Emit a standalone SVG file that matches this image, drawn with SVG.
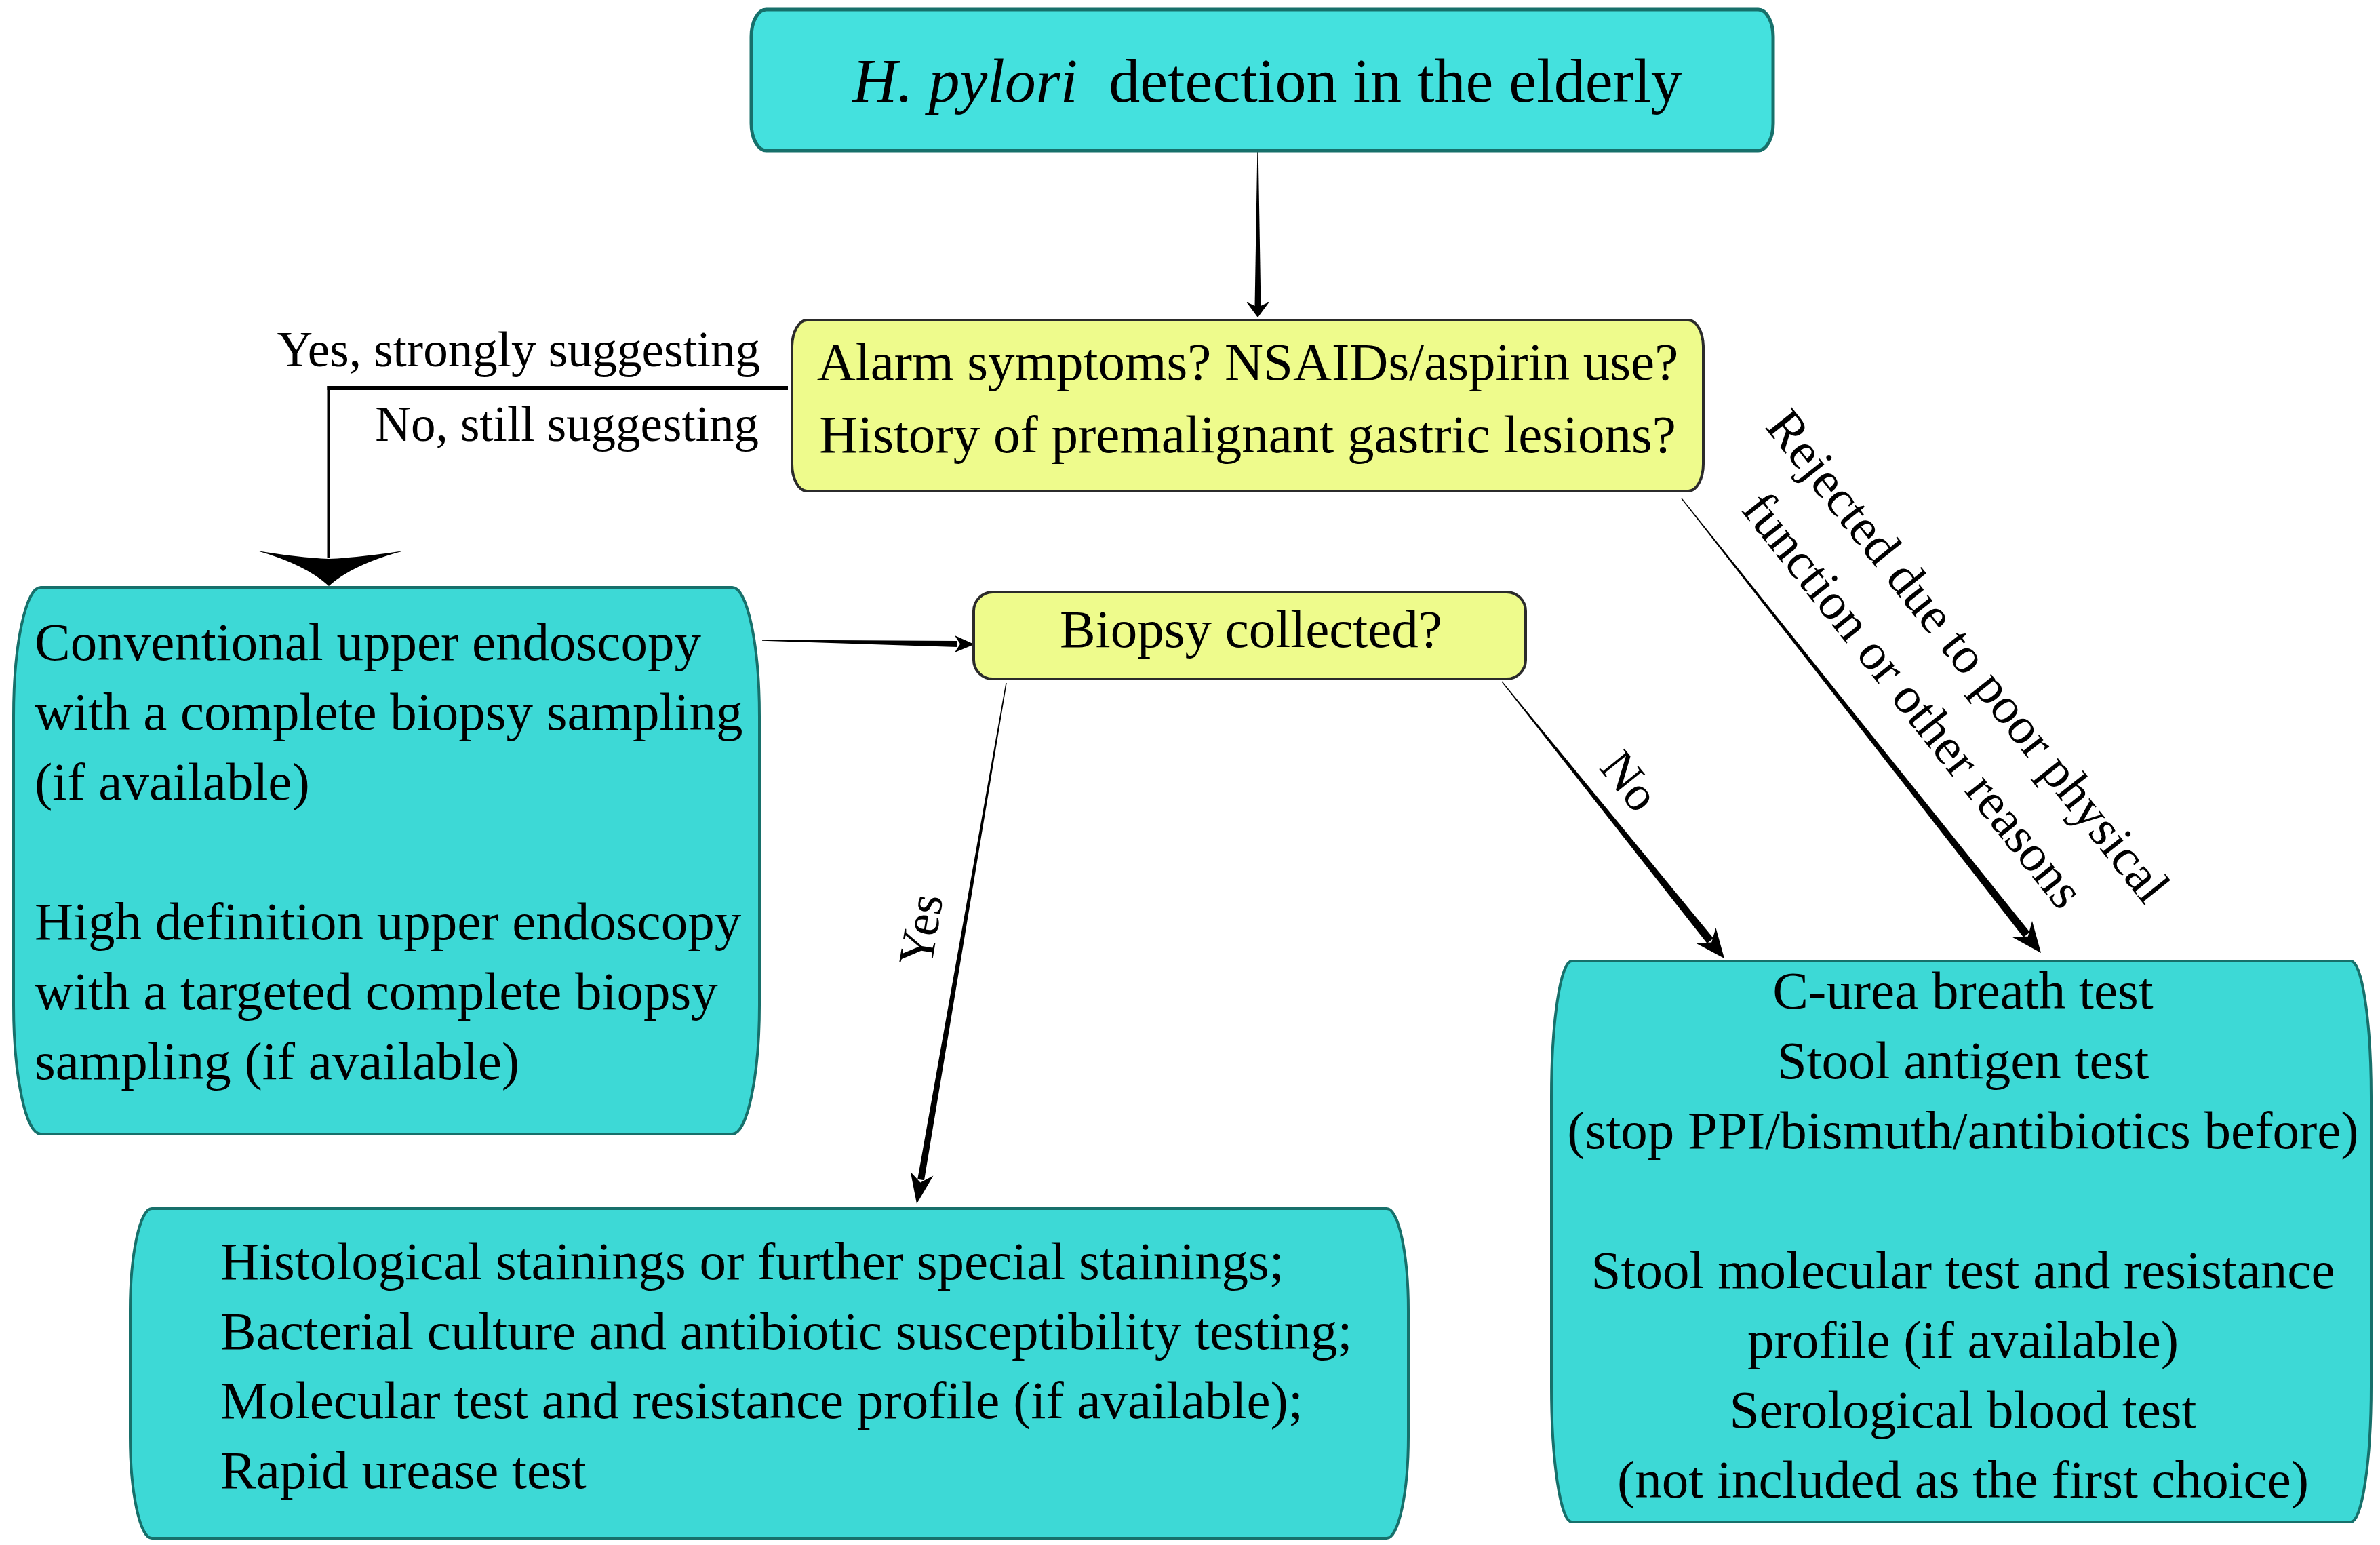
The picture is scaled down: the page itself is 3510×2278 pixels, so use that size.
<svg xmlns="http://www.w3.org/2000/svg" width="3510" height="2278" viewBox="0 0 3510 2278">
<style>
.cyan{fill:#3DD9D6;stroke:#17706B;stroke-width:4}
.cyan2{fill:#44E1DE;stroke:#17706B;stroke-width:5}
.yellow{fill:#EEFB8C;stroke:#2B2B2B;stroke-width:4}
.t{font-family:"Liberation Serif","Times New Roman",serif;font-size:79px;fill:#000}
.lbl{font-family:"Liberation Serif","Times New Roman",serif;font-size:73px;fill:#000}
.rej{font-size:76px}
.ttl{font-size:92px}
.c{fill:#000;stroke:none}
</style>
<rect width="3510" height="2278" fill="#fff"/>
<g id="connectors">
  <polygon class="c" points="1854.3,224 1855.7,224 1859.5,452 1850.5,452"/>
  <path class="c" d="M1855,468 L1838,445 L1855,453 L1872,445 Z"/>
  <rect class="c" x="482.5" y="569" width="679.5" height="6"/>
  <rect class="c" x="482.5" y="569" width="4.5" height="253"/>
  <path class="c" d="M379,812 Q440,822 485,824 Q530,822 596,812 Q520,832 485,864 Q450,832 379,812 Z"/>
  <polygon class="c" points="1124,943.5 1412,945 1412,954 1124,944.8"/>
  <path class="c" d="M1437,950 L1408,937 L1416,949.5 L1408,962 Z"/>
  <polygon class="c" points="1483.3,1006.9 1484.7,1007.1 1363.0,1740.3 1353.2,1738.7"/>
  <path class="c" d="M1352,1775 L1342.8,1727.7 L1357.4,1743.5 L1376.4,1733.5 Z"/>
  <polygon class="c" points="2215.5,1004.6 2527.0,1383.5 2517.6,1391.1 2214.5,1005.4"/>
  <path class="c" d="M2543,1413 L2530.5,1367.9 L2524.2,1389.6 L2501.7,1391.1 Z"/>
  <polygon class="c" points="2480.5,734.6 2993.6,1374.6 2984.2,1382.0 2479.5,735.4"/>
  <path class="c" d="M3010,1405 L2997.0,1357.9 L2990.8,1380.7 L2967.2,1381.5 Z"/>
  <text class="lbl" x="1121" y="540" text-anchor="end">Yes, strongly suggesting</text>
  <text class="lbl" x="1119" y="650" text-anchor="end">No, still suggesting</text>
  <text class="lbl" x="1382" y="1375" text-anchor="middle" transform="rotate(-80.5 1382 1375)">Yes</text>
  <text class="lbl" x="2385" y="1167" text-anchor="middle" transform="rotate(51 2385 1167)">No</text>
  <text class="lbl rej" x="2883" y="983" text-anchor="middle" transform="rotate(51.5 2883 983)">Rejected due to poor physical</text>
  <text class="lbl rej" x="2802" y="1048" text-anchor="middle" transform="rotate(51.5 2802 1048)">function or other reasons</text>
</g>
<g id="node-title">
  <rect class="cyan2" x="1108" y="14" width="1507" height="208" rx="22" ry="40"/>
  <text class="t ttl" x="1257" y="150"><tspan font-style="italic">H. pylori</tspan><tspan dx="46">detection in the elderly</tspan></text>
</g>
<g id="node-alarm">
  <rect class="yellow" x="1168" y="472" width="1344" height="252" rx="22" ry="40"/>
  <text class="t" x="1840" y="560" text-anchor="middle">Alarm symptoms? NSAIDs/aspirin use?</text>
  <text class="t" x="1840" y="667" text-anchor="middle">History of premalignant gastric lesions?</text>
</g>
<g id="node-biopsy">
  <rect class="yellow" x="1436" y="873" width="814" height="128" rx="28" ry="28"/>
  <text class="t" x="1845" y="954" text-anchor="middle">Biopsy collected?</text>
</g>
<g id="node-endoscopy">
  <rect class="cyan" x="20" y="866" width="1100" height="806" rx="40" ry="190"/>
  <text class="t" x="51" y="973">Conventional upper endoscopy</text>
  <text class="t" x="51" y="1076">with a complete biopsy sampling</text>
  <text class="t" x="51" y="1179">(if available)</text>
  <text class="t" x="51" y="1385">High definition upper endoscopy</text>
  <text class="t" x="51" y="1488">with a targeted complete biopsy</text>
  <text class="t" x="51" y="1591">sampling (if available)</text>
</g>
<g id="node-invasive">
  <rect class="cyan" x="192" y="1782" width="1885" height="486" rx="32" ry="150"/>
  <text class="t" x="325" y="1886">Histological stainings or further special stainings;</text>
  <text class="t" x="325" y="1989">Bacterial culture and antibiotic susceptibility testing;</text>
  <text class="t" x="325" y="2091">Molecular test and resistance profile (if available);</text>
  <text class="t" x="325" y="2194">Rapid urease test</text>
</g>
<g id="node-noninvasive">
  <rect class="cyan" x="2288" y="1417" width="1209" height="827" rx="30" ry="200"/>
  <text class="t" x="2895" y="1487" text-anchor="middle">C-urea breath test</text>
  <text class="t" x="2895" y="1590" text-anchor="middle">Stool antigen test</text>
  <text class="t" x="2895" y="1693" text-anchor="middle">(stop PPI/bismuth/antibiotics before)</text>
  <text class="t" x="2895" y="1899" text-anchor="middle">Stool molecular test and resistance</text>
  <text class="t" x="2895" y="2002" text-anchor="middle">profile (if available)</text>
  <text class="t" x="2895" y="2105" text-anchor="middle">Serological blood test</text>
  <text class="t" x="2895" y="2208" text-anchor="middle">(not included as the first choice)</text>
</g>
</svg>
